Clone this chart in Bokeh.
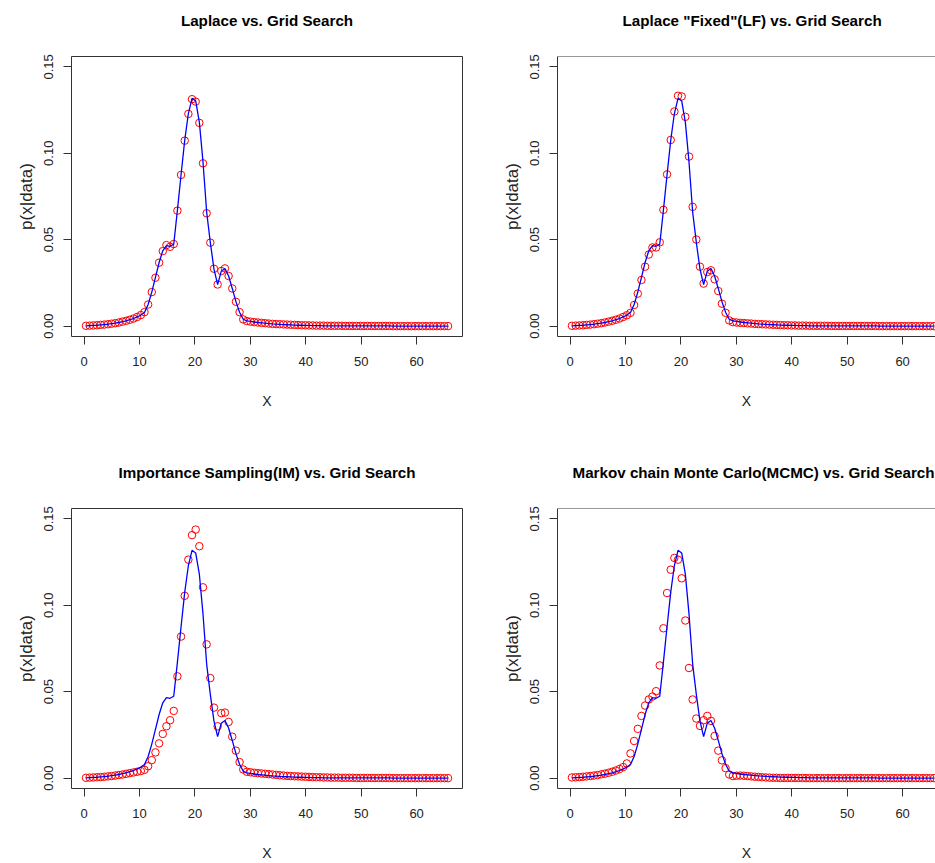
import numpy as np
from bokeh.plotting import figure
from bokeh.layouts import gridplot
from bokeh.models import FixedTicker, PrintfTickFormatter, Span, Range1d
from bokeh.embed import file_html
from bokeh.resources import INLINE

# evaluation grid (100 points)
x_grid = np.linspace(0.33, 65.67, 100)

grid_search = [
    0.0002, 0.0003, 0.0004, 0.0005, 0.0007, 0.0009, 0.0011, 0.0014, 0.0017, 0.0021,
    0.0026, 0.0031, 0.0037, 0.0044, 0.0053, 0.0064, 0.0079, 0.0125, 0.0197, 0.0282,
    0.0368, 0.0436, 0.0466, 0.0462, 0.0474, 0.0670, 0.0876, 0.1075, 0.1230, 0.1318,
    0.1303, 0.1180, 0.0950, 0.0660, 0.0485, 0.0330, 0.0240, 0.0318, 0.0333, 0.0290,
    0.0218, 0.0142, 0.0080, 0.0040, 0.0030, 0.0027, 0.0024, 0.0021, 0.0019, 0.0017,
    0.0015, 0.0013, 0.0012, 0.0010, 0.0009, 0.0008, 0.0007, 0.0006, 0.0005, 0.0005,
    0.0004, 0.0004, 0.0003, 0.0003, 0.0003, 0.0002, 0.0002, 0.0002, 0.0002, 0.0002,
    0.0002, 0.0001, 0.0001, 0.0001, 0.0001, 0.0001, 0.0001, 0.0001, 0.0001, 0.0001,
    0.0001, 0.0001, 0.0001, 0.0001, 0.0000, 0.0000, 0.0000, 0.0000, 0.0000, 0.0000,
    0.0000, 0.0000, 0.0000, 0.0000, 0.0000, 0.0000, 0.0000, 0.0000, 0.0000, 0.0000,
]

laplace = [
    0.0002, 0.0003, 0.0004, 0.0005, 0.0007, 0.0009, 0.0011, 0.0014, 0.0017, 0.0021,
    0.0026, 0.0031, 0.0037, 0.0044, 0.0053, 0.0064, 0.0081, 0.0125, 0.0197, 0.0280,
    0.0367, 0.0434, 0.0469, 0.0459, 0.0475, 0.0668, 0.0875, 0.1073, 0.1228, 0.1313,
    0.1299, 0.1176, 0.0942, 0.0653, 0.0483, 0.0332, 0.0241, 0.0319, 0.0334, 0.0290,
    0.0218, 0.0141, 0.0081, 0.0039, 0.0029, 0.0026, 0.0023, 0.0021, 0.0019, 0.0017,
    0.0015, 0.0013, 0.0012, 0.0011, 0.0010, 0.0009, 0.0008, 0.0007, 0.0006, 0.0005,
    0.0005, 0.0004, 0.0004, 0.0003, 0.0003, 0.0003, 0.0002, 0.0002, 0.0002, 0.0002,
    0.0002, 0.0001, 0.0001, 0.0001, 0.0001, 0.0001, 0.0001, 0.0001, 0.0001, 0.0001,
    0.0001, 0.0001, 0.0001, 0.0001, 0.0000, 0.0000, 0.0000, 0.0000, 0.0000, 0.0000,
    0.0000, 0.0000, 0.0000, 0.0000, 0.0000, 0.0000, 0.0000, 0.0000, 0.0000, 0.0000,
]

laplace_fixed = [
    0.0002, 0.0003, 0.0004, 0.0005, 0.0007, 0.0009, 0.0011, 0.0014, 0.0017, 0.0021,
    0.0026, 0.0031, 0.0037, 0.0044, 0.0053, 0.0063, 0.0077, 0.0122, 0.0188, 0.0267,
    0.0344, 0.0414, 0.0455, 0.0455, 0.0485, 0.0673, 0.0878, 0.1077, 0.1242, 0.1333,
    0.1329, 0.1211, 0.0981, 0.0690, 0.0501, 0.0344, 0.0246, 0.0313, 0.0323, 0.0271,
    0.0203, 0.0130, 0.0077, 0.0033, 0.0023, 0.0021, 0.0019, 0.0018, 0.0016, 0.0015,
    0.0013, 0.0012, 0.0011, 0.0010, 0.0009, 0.0008, 0.0007, 0.0006, 0.0005, 0.0005,
    0.0004, 0.0004, 0.0003, 0.0003, 0.0003, 0.0002, 0.0002, 0.0002, 0.0002, 0.0002,
    0.0002, 0.0001, 0.0001, 0.0001, 0.0001, 0.0001, 0.0001, 0.0001, 0.0001, 0.0001,
    0.0001, 0.0001, 0.0001, 0.0001, 0.0000, 0.0000, 0.0000, 0.0000, 0.0000, 0.0000,
    0.0000, 0.0000, 0.0000, 0.0000, 0.0000, 0.0000, 0.0000, 0.0000, 0.0000, 0.0000,
]

importance_sampling = [
    0.0002, 0.0003, 0.0004, 0.0005, 0.0006, 0.0008, 0.0010, 0.0012, 0.0015, 0.0018,
    0.0021, 0.0025, 0.0029, 0.0033, 0.0037, 0.0041, 0.0048, 0.0069, 0.0104, 0.0149,
    0.0201, 0.0256, 0.0300, 0.0335, 0.0389, 0.0589, 0.0819, 0.1055, 0.1264, 0.1406,
    0.1438, 0.1342, 0.1104, 0.0774, 0.0579, 0.0408, 0.0300, 0.0376, 0.0379, 0.0325,
    0.0240, 0.0159, 0.0093, 0.0050, 0.0037, 0.0034, 0.0031, 0.0029, 0.0027, 0.0025,
    0.0023, 0.0021, 0.0019, 0.0017, 0.0015, 0.0013, 0.0012, 0.0011, 0.0010, 0.0009,
    0.0008, 0.0007, 0.0006, 0.0005, 0.0005, 0.0004, 0.0004, 0.0003, 0.0003, 0.0003,
    0.0002, 0.0002, 0.0002, 0.0002, 0.0001, 0.0001, 0.0001, 0.0001, 0.0001, 0.0001,
    0.0001, 0.0001, 0.0001, 0.0001, 0.0000, 0.0000, 0.0000, 0.0000, 0.0000, 0.0000,
    0.0000, 0.0000, 0.0000, 0.0000, 0.0000, 0.0000, 0.0000, 0.0000, 0.0000, 0.0000,
]

mcmc = [
    0.0004, 0.0005, 0.0006, 0.0008, 0.0010, 0.0012, 0.0015, 0.0018, 0.0022, 0.0026,
    0.0031, 0.0037, 0.0044, 0.0053, 0.0064, 0.0085, 0.0143, 0.0215, 0.0285, 0.0360,
    0.0420, 0.0455, 0.0472, 0.0503, 0.0652, 0.0867, 0.1071, 0.1206, 0.1274, 0.1264,
    0.1156, 0.0912, 0.0637, 0.0455, 0.0345, 0.0302, 0.0335, 0.0360, 0.0331, 0.0244,
    0.0159, 0.0103, 0.0058, 0.0021, 0.0012, 0.0014, 0.0015, 0.0014, 0.0012, 0.0010,
    0.0008, 0.0007, 0.0005, 0.0004, 0.0003, 0.0002, 0.0002, 0.0001, 0.0001, 0.0001,
    0.0001, 0.0001, 0.0001, 0.0001, 0.0000, 0.0000, 0.0000, 0.0000, 0.0000, 0.0000,
    0.0000, 0.0000, 0.0000, 0.0000, 0.0000, 0.0000, 0.0000, 0.0000, 0.0000, 0.0000,
    0.0000, 0.0000, 0.0000, 0.0000, 0.0000, 0.0000, 0.0000, 0.0000, 0.0000, 0.0000,
    0.0000, 0.0000, 0.0000, 0.0000, 0.0000, 0.0000, 0.0000, 0.0000, 0.0000, 0.0000,
]

titles = [
    "Laplace vs. Grid Search",
    'Laplace "Fixed"(LF) vs. Grid Search',
    "Importance Sampling(IM) vs. Grid Search",
    "Markov chain Monte Carlo(MCMC) vs. Grid Search",
]
series = [laplace, laplace_fixed, importance_sampling, mcmc]
x_ticks = [0, 10, 20, 30, 40, 50, 60]
y_ticks = [0.0, 0.05, 0.10, 0.15]
x_label = "X"
y_label = "p(x|data)"

FONT = "Liberation Sans"
LINE = "#333333"
X0, X1 = -2.28, 68.28
Y0, Y1 = -0.006, 0.156
FRAME_W_LEFT = 391
PX_PER_UNIT = FRAME_W_LEFT / (X1 - X0)


def make_panel(idx):
    col = idx % 2
    row = idx // 2
    if col == 0:
        w, mbl, mbr = 488, 71, 26
        xr = Range1d(X0, X1)
    else:
        w, mbl, mbr = 447, 69, 0
        fw = w - mbl - mbr
        xr = Range1d(X0, X0 + fw / PX_PER_UNIT)
    if row == 0:
        h, mbt, mbb = 448, 56, 112
    else:
        h, mbt, mbb = 415, 60, 75
    p = figure(width=w, height=h, x_range=xr, y_range=Range1d(Y0, Y1),
               output_backend="svg", toolbar_location=None,
               min_border_left=mbl, min_border_right=mbr,
               min_border_top=mbt, min_border_bottom=mbb,
               background_fill_color="white", border_fill_color="white")
    # two-line title box (second line empty) so the text sits high above the box
    p.title.text = titles[idx] + "\n"
    p.title.text_font = FONT
    p.title.text_font_size = "15.2px"
    p.title.text_font_style = "bold"
    p.title.text_color = "black"
    p.title.vertical_align = "top"
    p.title.standoff = 18
    if col == 0:
        p.title.align = "center"
        p.outline_line_color = LINE
    else:
        p.title.align = "left"
        p.title.offset = 65 if row == 0 else 15
        p.outline_line_color = None
        p.add_layout(Span(location=Y1, dimension="width", line_color=LINE, line_width=1))
    p.xgrid.visible = False
    p.ygrid.visible = False

    for ax in (p.xaxis[0], p.yaxis[0]):
        ax.minor_tick_line_color = None
        ax.major_tick_in = 0
        ax.major_tick_out = 8
        ax.major_tick_line_color = LINE
        ax.axis_line_color = LINE if col == 1 else None
        ax.major_label_text_font = FONT
        ax.major_label_text_font_size = "13px"
        ax.major_label_text_color = "#222222"
        ax.axis_label_text_font = FONT
        ax.axis_label_text_font_style = "normal"
        ax.axis_label_text_color = "#222222"
    p.xaxis.axis_label_text_font_size = "14px"
    p.yaxis.axis_label_text_font_size = "17px"
    p.xaxis.ticker = FixedTicker(ticks=x_ticks)
    p.yaxis.ticker = FixedTicker(ticks=y_ticks)
    p.yaxis.formatter = PrintfTickFormatter(format="%.2f")
    p.yaxis.major_label_orientation = "vertical"
    p.xaxis.axis_label = x_label
    p.yaxis.axis_label = y_label
    p.xaxis.major_label_standoff = 12
    p.xaxis.axis_label_standoff = 24
    p.yaxis.major_label_standoff = 10
    p.yaxis.axis_label_standoff = 6

    p.scatter(x_grid, series[idx], marker="circle", size=7.5,
              fill_color=None, line_color="red", line_width=1)
    p.line(x_grid, grid_search, line_color="blue", line_width=1.3)
    return p


panels = [make_panel(i) for i in range(4)]
layout = gridplot([[panels[0], panels[1]], [panels[2], panels[3]]],
                  toolbar_location=None)

open("out.html", "w").write(file_html(layout, INLINE))
